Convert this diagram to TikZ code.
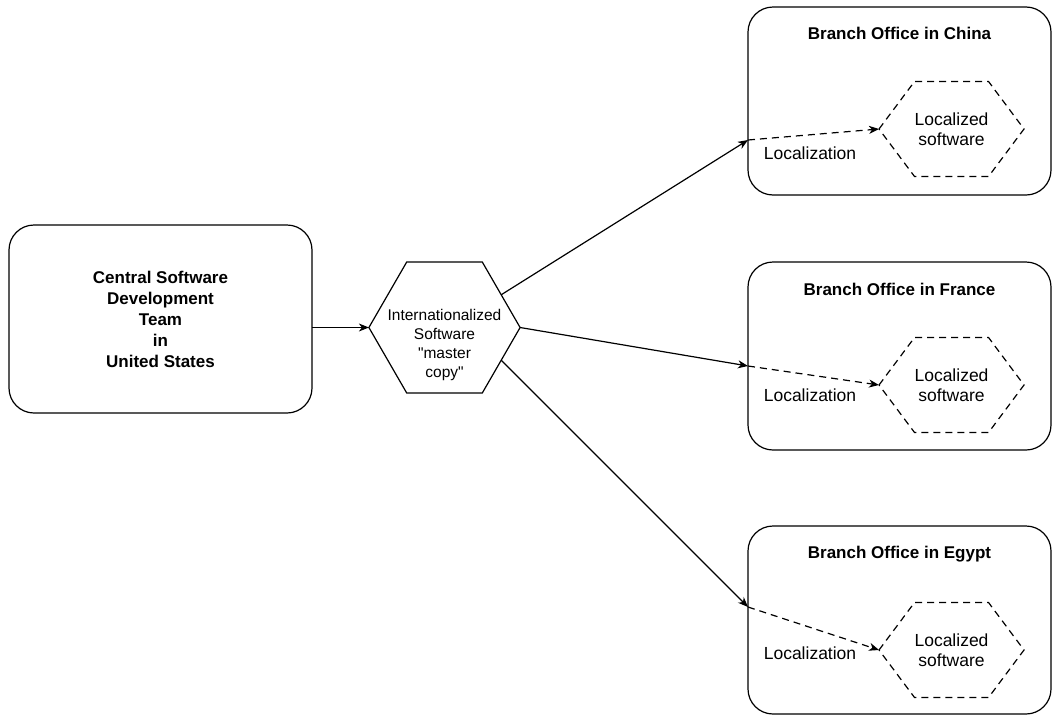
\documentclass[tikz,border=0pt]{standalone}
\usepackage{fontspec}
\setmainfont{Liberation Sans}
\newfontfamily\qfont{Liberation Sans}[Mapping=]
\usetikzlibrary{shapes.geometric,arrows.meta,calc}
\newcommand\LocHex[3]{%
  \draw[dashline] (#2-72.5,#3) -- (#2-37,#3-47.5) -- (#2+37,#3-47.5) -- (#2+72.5,#3) -- (#2+37,#3+47.5) -- (#2-37,#3+47.5) -- cycle;
  \coordinate (#1w) at (#2-72.5,#3);
  \node[loctext] (#1t) at (#2,#3) {Localized\\software};
}
\newcommand\SQ{{\qfont\symbol{34}}}
\begin{document}
\begin{tikzpicture}[x=1pt,y=-1pt,line width=1.2pt,
  box/.style={draw, rounded corners=25pt, minimum width=303pt, minimum height=188pt, inner sep=0pt, outer sep=0pt},
  bigbold/.style={font=\fontsize{17}{21}\selectfont\bfseries, align=center},
  loctext/.style={font=\fontsize{17.5}{20.5}\selectfont, align=center, inner sep=0pt},
  mastertext/.style={font=\fontsize{15.5}{18.7}\selectfont, align=center, inner sep=0pt},
  dashline/.style={dash pattern=on 7pt off 5pt},
  arr/.style={-{Stealth[length=10pt,width=8pt,inset=3pt]}},
  hexm/.style={draw, regular polygon, regular polygon sides=6, minimum size=151.2pt, inner sep=0pt, outer sep=0pt}
]
\useasboundingbox (0,0) rectangle (1054,715);

\node[box, bigbold] (central) at (160.5,319) {Central Software\\Development\\Team\\in\\United States};

\node[hexm] (master) at (444.5,327.5) {};
\node[mastertext] (mastert) at (444.5,345) {Internationalized\\Software\\\SQ master\\copy\SQ};

\node[box] (china) at (899.5,101) {};
\node[bigbold, inner sep=0pt] (chinat) at (899.5,33) {Branch Office in China};
\node[box] (france) at (899.5,356) {};
\node[bigbold, inner sep=0pt] (francet) at (899.5,289) {Branch Office in France};
\node[box] (egypt) at (899.5,620) {};
\node[bigbold, inner sep=0pt] (egyptt) at (899.5,554) {Branch Office in Egypt};

\LocHex{hc}{951.5}{129}
\LocHex{hf}{951.5}{385}
\LocHex{he}{951.5}{650}

\coordinate (cin) at ($(china.west)+(0,39)$);
\coordinate (fin) at ($(france.west)+(0,10)$);
\coordinate (ein) at ($(egypt.west)+(0,-13)$);

\draw[arr] (central.east |- master.west) -- (master.west);
\draw[arr] (master.30) -- (cin);
\draw[arr] (master.east) -- (fin);
\draw[arr] (master.-30) -- (ein);

\draw[arr, dashline] (cin) -- (hcw);
\draw[arr, dashline] (fin) -- (hfw);
\draw[arr, dashline] (ein) -- (hew);

\node[loctext] (lc) at (810,153) {Localization};
\node[loctext] (lf) at (810,395) {Localization};
\node[loctext] (le) at (810,653) {Localization};
\end{tikzpicture}
\end{document}
